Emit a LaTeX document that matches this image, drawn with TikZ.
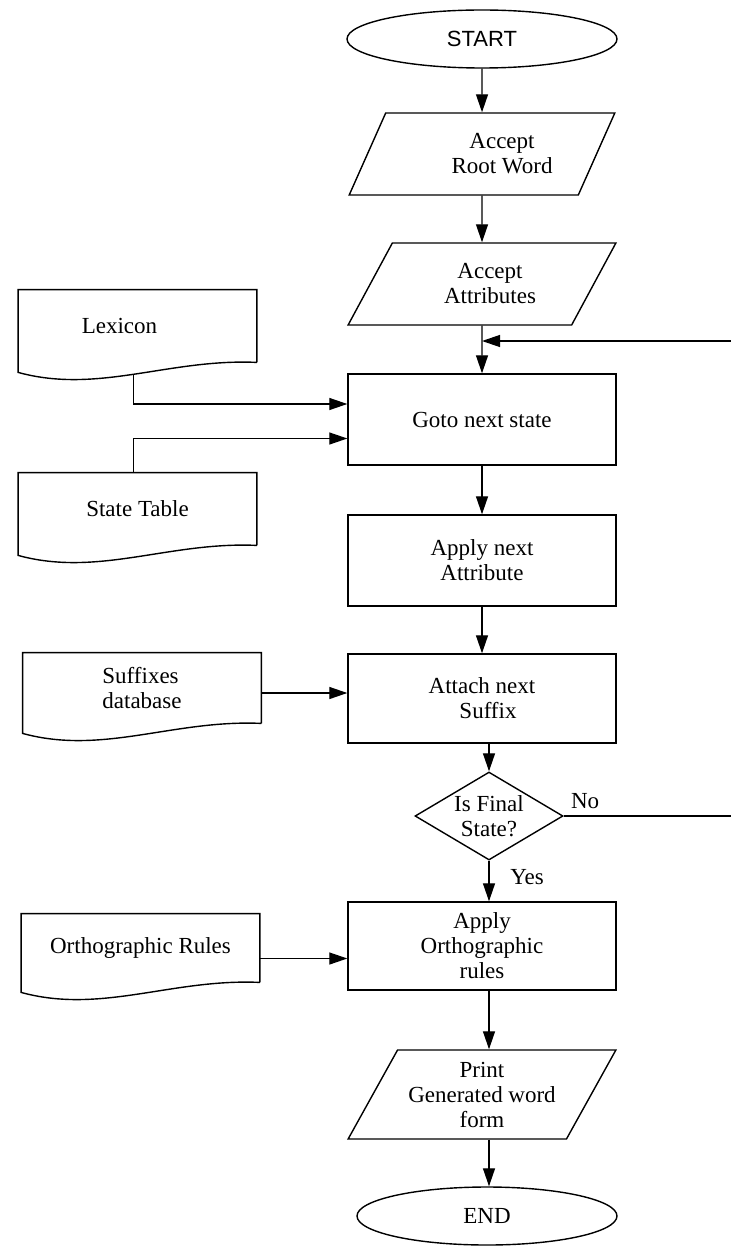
\documentclass[tikz,border=0pt]{standalone}
\usepackage{fontspec}
\setmainfont{Liberation Serif}
\newfontfamily\startfont{Liberation Sans}
\usetikzlibrary{shapes.geometric,arrows.meta}

\tikzset{
  every node/.style={font=\fontsize{11.5}{12.5}\selectfont, align=center},
  conn/.style={line width=0.65pt},
  flow/.style={conn, -{Triangle[length=9pt,width=6pt]}},
  terminal/.style={draw, line width=0.7pt, ellipse, inner sep=0pt, minimum width=135pt, minimum height=29pt},
  iobox/.style={draw, line width=0.7pt, trapezium, trapezium left angle=56.6, trapezium right angle=123.4, trapezium stretches=true, inner sep=0pt, minimum width=134pt, minimum height=41pt},
  process/.style={draw, line width=0.7pt, rectangle, inner sep=0pt, minimum width=134pt, minimum height=45.5pt},
  decision/.style={draw, line width=0.7pt, diamond, aspect=1.68, inner sep=0pt, minimum width=74pt, minimum height=44pt},
  docbox/.style={rectangle, inner sep=0pt, minimum width=119pt, minimum height=36pt}
}

\begin{document}
\begin{tikzpicture}[x=0.5pt, y=-0.5pt]
\useasboundingbox (0,0) rectangle (731,1246);

% main flow
\node[terminal, font=\startfont\fontsize{11}{12}\selectfont] (start) at (482, 39) {START};
\node[iobox] (root) at (482, 154) {\hspace*{20pt}Accept\\\hspace*{20pt}Root Word};
\node[iobox] (attr) at (482, 284) {\hspace*{8pt}Accept\\\hspace*{8pt}Attributes};
\node[process] (goto) at (482, 419.5) {Goto next state};
\node[process] (apply) at (482, 560.5) {Apply next\\Attribute};
\node[process, minimum height=44.5pt] (attach) at (482, 698.5) {Attach next\\\hspace*{6pt}Suffix};
\node[decision] (final) at (489, 816) {Is Final\\State?};
\node[process, minimum height=44pt] (ortho) at (482, 946) {Apply\\Orthographic\\rules};
\node[iobox, minimum height=44.5pt] (print) at (482, 1094.5) {Print\\Generated word\\form};
\node[terminal, minimum width=130pt] (end) at (487, 1216) {END};

% data stores
\node[docbox] (lexicon) at (137.5, 326) {Lexicon\hspace*{18pt}};
\node[docbox] (statetab) at (137.5, 509) {State Table};
\node[docbox, minimum height=35pt, align=left] (suffix) at (142, 688) {Suffixes\\database};
\node[docbox, minimum height=34pt] (orthrules) at (140.5, 948) {Orthographic Rules};
\foreach \doc in {lexicon, statetab, suffix, orthrules}
  \draw[line width=0.7pt] (\doc.south east) -- (\doc.north east) -- (\doc.north west)
    -- ([yshift=-5pt]\doc.south west)
    .. controls +(40pt,-11pt) and +(-44pt,2pt) .. (\doc.south east);

\coordinate (join) at (482, 341);
\coordinate (rim) at (734, 341);
\coordinate (lexin) at ([yshift=7.75pt]goto.west);
\coordinate (tabin) at ([yshift=-9.5pt]goto.west);
\coordinate (sufin) at ([yshift=-2.5pt]suffix.east);
\coordinate (rulein) at ([yshift=-5.25pt]orthrules.east);

\draw[flow] (start) -- (root);
\draw[flow] (root) -- (attr);
\draw[flow] (attr) -- (goto);
\draw[flow] (goto) -- (apply);
\draw[flow] (apply) -- (attach);
\draw[flow] (attach.south -| final) -- (final);
\draw[flow] (final) -- node[right=7pt, pos=0.4] (yes) {Yes} (final |- ortho.north);
\draw[flow] (ortho.south -| final) -- (print.north -| final);
\draw[flow] (print.south -| final) -- (end.north -| final);
\draw[flow] (final.east) -- node[pos=0, above right] (no) {No} (final.east -| rim) -- (rim) -- (join);

\draw[flow] ([xshift=-2pt,yshift=-6pt]lexicon.south) |- (lexin);
\draw[flow] ([xshift=-2pt]statetab.north) |- (tabin);
\draw[flow] (sufin) -- (sufin -| attach.west);
\draw[flow] (rulein) -- (rulein -| ortho.west);
\end{tikzpicture}
\end{document}
